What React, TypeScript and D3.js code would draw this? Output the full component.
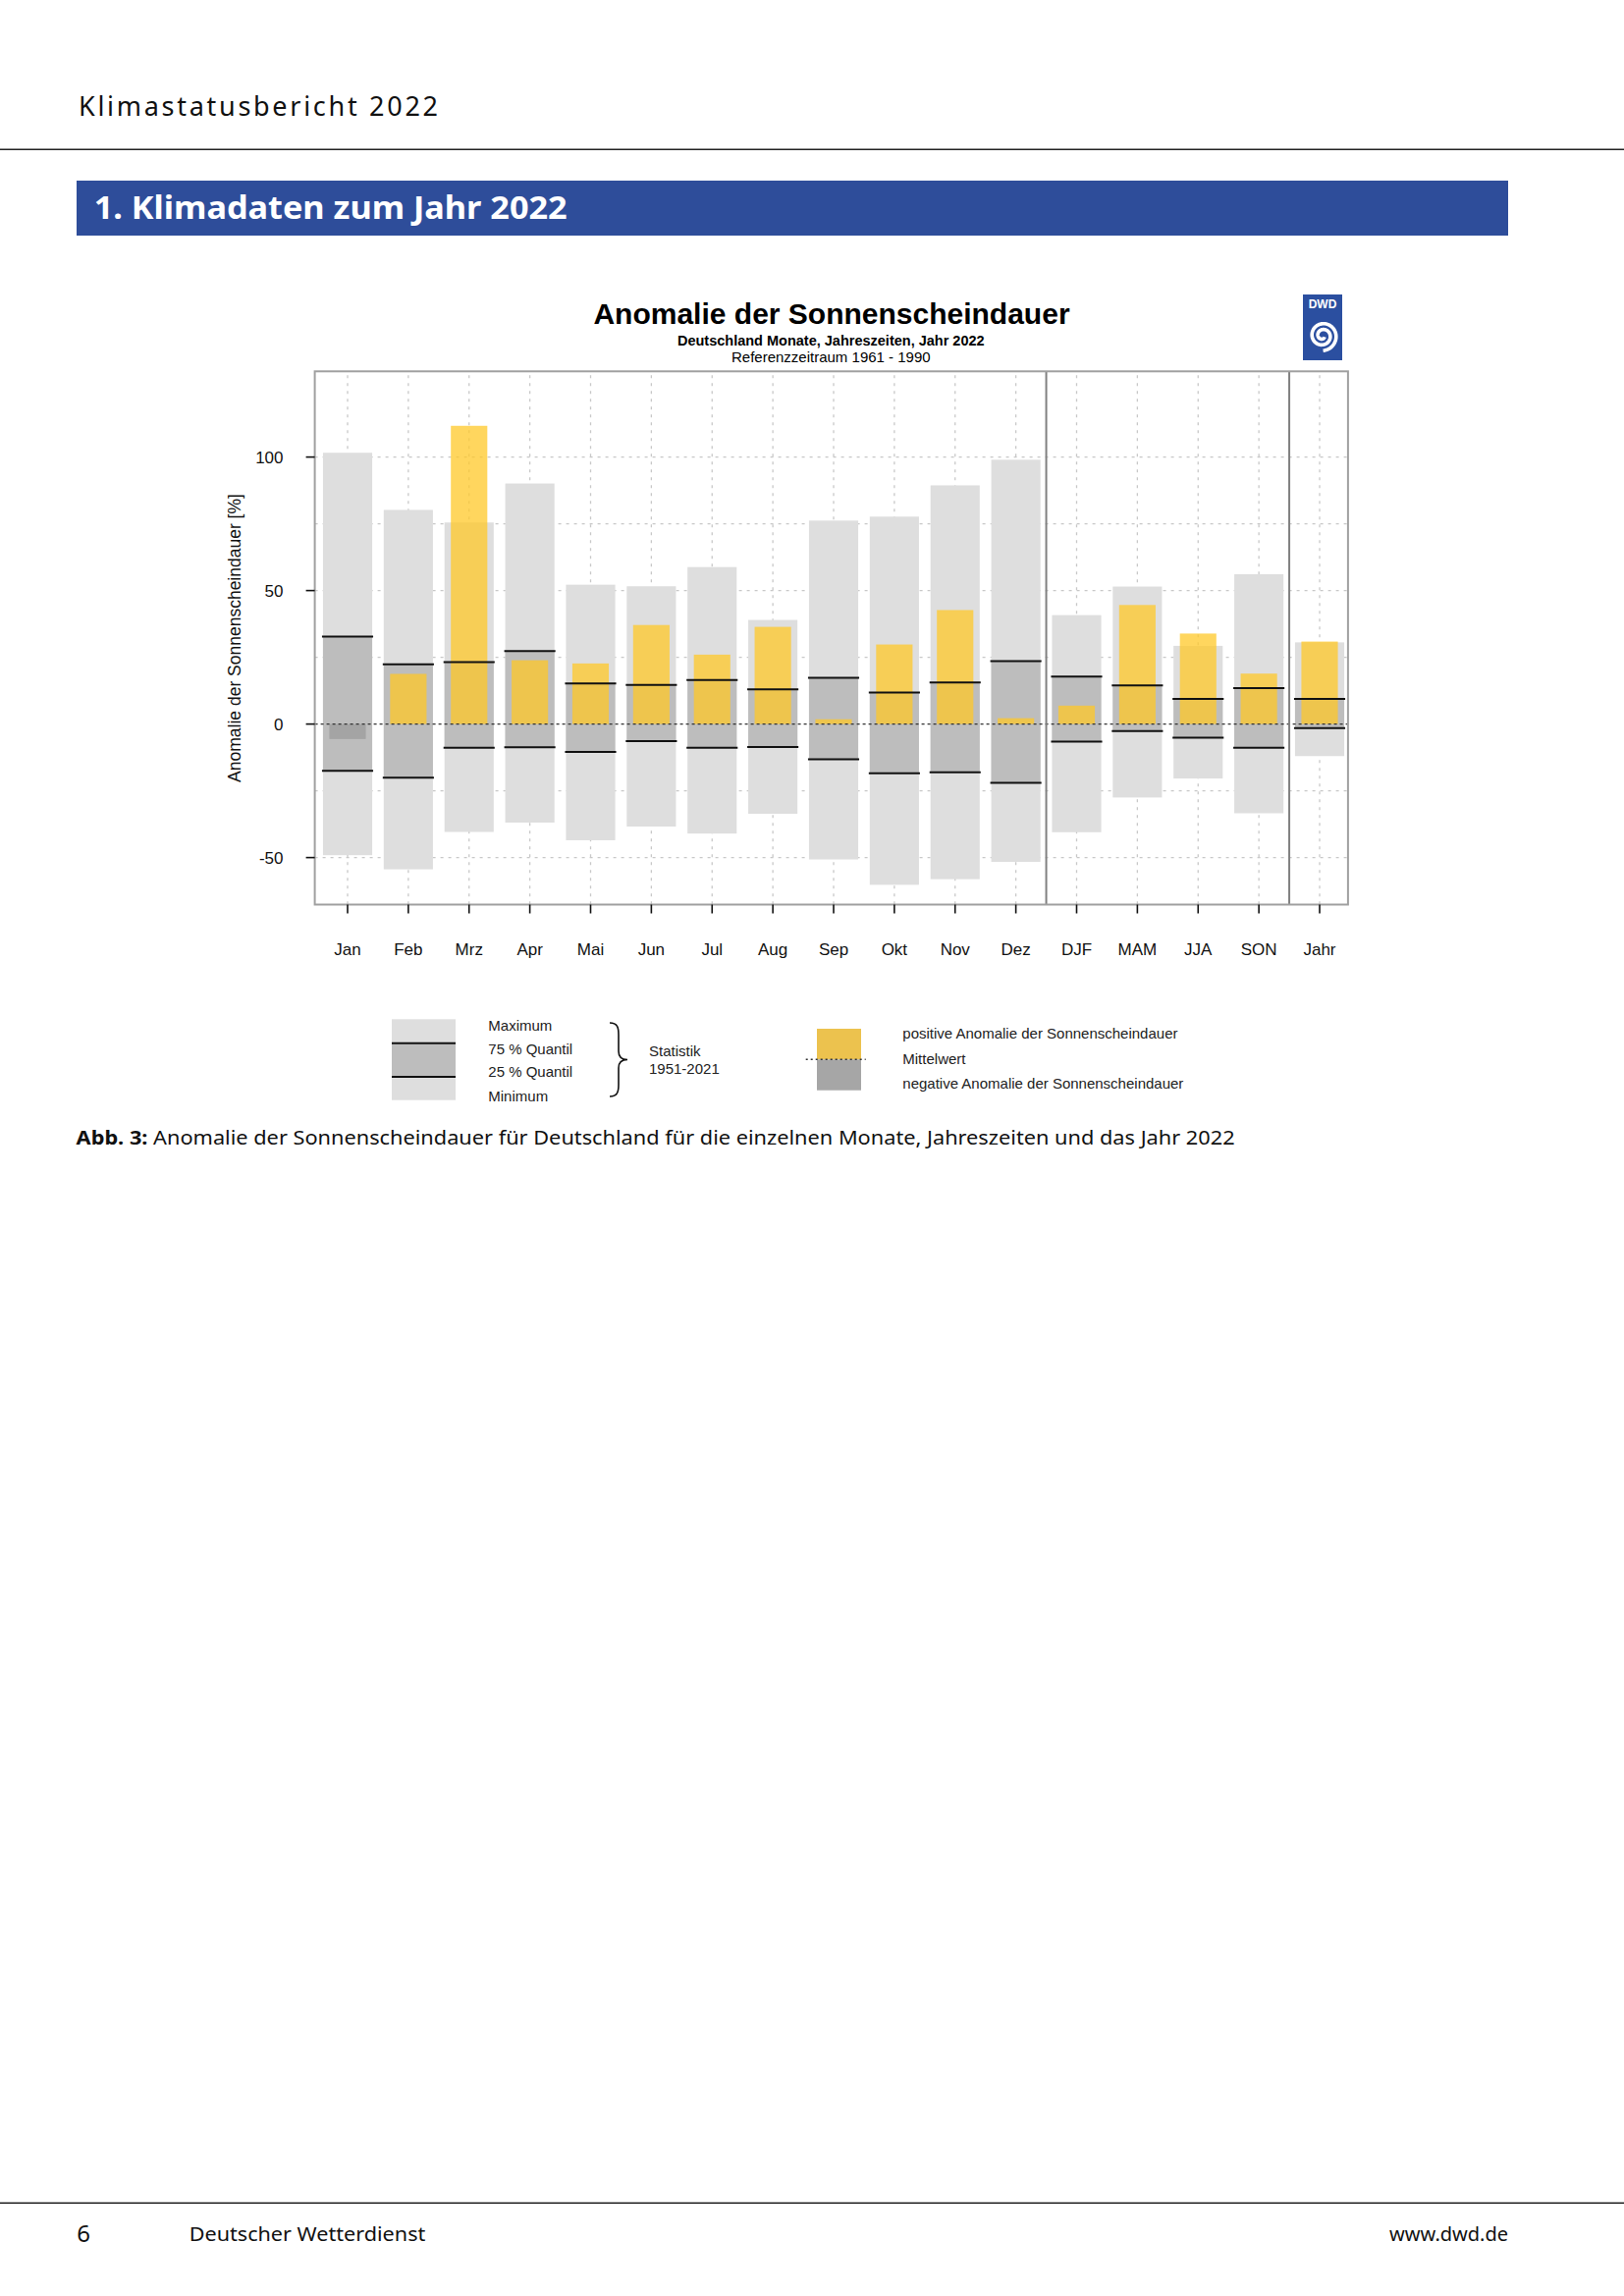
import React from 'react';
import * as d3 from 'd3';

const categories = ['Jan', 'Feb', 'Mrz', 'Apr', 'Mai', 'Jun', 'Jul', 'Aug', 'Sep', 'Okt', 'Nov', 'Dez', 'DJF', 'MAM', 'JJA', 'SON', 'Jahr'];
const maxima = [101.6, 80.2, 75.5, 90.1, 52.2, 51.6, 58.8, 39.0, 76.2, 77.7, 89.4, 99.0, 40.8, 51.5, 29.3, 56.1, 30.6];
const minima = [-49.1, -54.4, -40.4, -36.9, -43.5, -38.4, -41.0, -33.6, -50.7, -60.2, -58.1, -51.6, -40.5, -27.5, -20.4, -33.4, -12.0];
const quantil75 = [32.8, 22.4, 23.2, 27.3, 15.2, 14.7, 16.5, 13.0, 17.3, 11.8, 15.6, 23.6, 17.8, 14.5, 9.4, 13.5, 9.4];
const quantil25 = [-17.5, -20.1, -8.9, -8.7, -10.4, -6.4, -8.9, -8.6, -13.2, -18.4, -18.1, -22.0, -6.6, -2.6, -5.1, -8.9, -1.5];
const anomalie2022 = [-5.6, 18.8, 111.7, 23.9, 22.7, 37.1, 26.0, 36.4, 1.8, 29.8, 42.7, 2.2, 6.9, 44.6, 33.9, 18.9, 30.9];
const yTicks = [-50, 0, 50, 100];
const yGrid = [-50, -25, 25, 50, 75, 100];
const separatorsAfter = ['Dez', 'SON'];

const chartFont = '"Liberation Sans", Arial, Helvetica, sans-serif';
const pageFont = '"Noto Sans", "Open Sans", sans-serif';

const box = { left: 320.6, right: 1372.9, top: 378.3, bottom: 921.5 };

export default function App() {
  const x = d3.scalePoint<string>().domain(categories).range([354, 1344]);
  const step = x.step();
  const cx = (c: string) => x(c) as number;
  const y = d3.scaleLinear().domain([-67.6, 132.1]).range([box.bottom, box.top]);
  const greyW = step * 0.81;
  const anomW = step * 0.6;

  // DWD spiral (logo decoration)
  const spiralPts: [number, number][] = [];
  for (let t = 0; t <= 4.3 * Math.PI; t += 0.1) {
    const r = 2.4 + 0.95 * t;
    spiralPts.push([Math.cos(t + 0.6) * r, Math.sin(t + 0.6) * r]);
  }
  const spiral = d3.line()(spiralPts) || '';

  return (
    <svg width={1654} height={2339} style={{ position: 'absolute', left: 0, top: 0, background: '#fff' }}>
      <rect x={0} y={0} width={1654} height={2339} fill="#fff" />
      {/* page header */}
      <text x={80} y={118.3} fontFamily={pageFont} fontSize={27} fill="#111" textLength={366} lengthAdjust="spacing">Klimastatusbericht 2022</text>
      <line x1={0} x2={1654} y1={152.3} y2={152.3} stroke="#222" strokeWidth={1.5} />
      <rect x={78} y={184} width={1458} height={56} fill="#2E4D9A" />
      <text x={95.7} y={223.3} fontFamily={pageFont} fontWeight="bold" fontSize={33} fill="#fff" textLength={482} lengthAdjust="spacingAndGlyphs">1. Klimadaten zum Jahr 2022</text>

      {/* chart titles */}
      <text x={847} y={330} textAnchor="middle" fontFamily={chartFont} fontWeight="bold" fontSize={30} fill="#000">Anomalie der Sonnenscheindauer</text>
      <text x={846.3} y={352} textAnchor="middle" fontFamily={chartFont} fontWeight="bold" fontSize={14.5} fill="#000">Deutschland Monate, Jahreszeiten, Jahr 2022</text>
      <text x={846.3} y={369.3} textAnchor="middle" fontFamily={chartFont} fontSize={15} fill="#000">Referenzzeitraum 1961 - 1990</text>

      {/* DWD logo */}
      <rect x={1327} y={300} width={40} height={67} fill="#2B4FA0" />
      <text x={1347} y={314} textAnchor="middle" fontFamily={chartFont} fontWeight="bold" fontSize={12} fill="#fff">DWD</text>
      <path d={spiral} transform="translate(1347,342)" fill="none" stroke="#fff" strokeWidth={3.6} />

      {/* grid */}
      {yGrid.map((v) => (
        <line key={'hg' + v} x1={box.left} x2={box.right} y1={y(v)} y2={y(v)} stroke="#c8c8c8" strokeWidth={1.3} strokeDasharray="3,5" />
      ))}
      {categories.map((c) => (
        <line key={'vg' + c} x1={cx(c)} x2={cx(c)} y1={box.top + 4} y2={box.bottom} stroke="#c8c8c8" strokeWidth={1.3} strokeDasharray="3,5" />
      ))}

      {/* statistics bars */}
      {categories.map((c, i) => (
        <g key={'st' + c}>
          <rect x={cx(c) - greyW / 2} width={greyW} y={y(maxima[i])} height={y(minima[i]) - y(maxima[i])} fill="#dedede" />
          <rect x={cx(c) - greyW / 2} width={greyW} y={y(quantil75[i])} height={y(quantil25[i]) - y(quantil75[i])} fill="#bdbdbd" />
        </g>
      ))}

      {/* anomaly bars */}
      {categories.map((c, i) => {
        const v = anomalie2022[i];
        const pos = v >= 0;
        return (
          <rect key={'an' + c} x={cx(c) - anomW / 2} width={anomW} y={y(Math.max(v, 0))} height={Math.abs(y(v) - y(0))}
            fill={pos ? '#FFC828' : '#a4a4a4'} fillOpacity={pos ? 0.75 : 1} />
        );
      })}

      {/* quantile lines */}
      {categories.map((c, i) => (
        <g key={'ql' + c}>
          <line x1={cx(c) - greyW / 2 - 1} x2={cx(c) + greyW / 2 + 1} y1={y(quantil75[i])} y2={y(quantil75[i])} stroke="#111" strokeWidth={2} />
          <line x1={cx(c) - greyW / 2 - 1} x2={cx(c) + greyW / 2 + 1} y1={y(quantil25[i])} y2={y(quantil25[i])} stroke="#111" strokeWidth={2} />
        </g>
      ))}

      {/* zero line */}
      <line x1={box.left} x2={box.right} y1={y(0)} y2={y(0)} stroke="#333" strokeWidth={1.4} strokeDasharray="3,3" />

      {/* separators */}
      {separatorsAfter.map((c) => (
        <line key={'sep' + c} x1={cx(c) + step / 2} x2={cx(c) + step / 2} y1={box.top} y2={box.bottom} stroke="#808080" strokeWidth={2} />
      ))}

      {/* box */}
      <rect x={box.left} y={box.top} width={box.right - box.left} height={box.bottom - box.top} fill="none" stroke="#a0a0a0" strokeWidth={2} />

      {/* y axis */}
      {yTicks.map((v) => (
        <g key={'yt' + v}>
          <line x1={box.left - 9} x2={box.left} y1={y(v)} y2={y(v)} stroke="#111" strokeWidth={1.6} />
          <text x={288.5} y={y(v) + 6} textAnchor="end" fontFamily={chartFont} fontSize={17} fill="#111">{v}</text>
        </g>
      ))}
      <text transform={`translate(245,650) rotate(-90)`} textAnchor="middle" fontFamily={chartFont} fontSize={17.5} fill="#111">Anomalie der Sonnenscheindauer [%]</text>

      {/* x axis */}
      {categories.map((c) => (
        <g key={'xt' + c}>
          <line x1={cx(c)} x2={cx(c)} y1={box.bottom} y2={box.bottom + 9} stroke="#111" strokeWidth={1.6} />
          <text x={cx(c)} y={973} textAnchor="middle" fontFamily={chartFont} fontSize={17} fill="#111">{c}</text>
        </g>
      ))}

      {/* legend left */}
      <rect x={399} y={1038.3} width={65} height={82.4} fill="#dedede" />
      <rect x={399} y={1062.7} width={65} height={34.3} fill="#bdbdbd" />
      <line x1={399} x2={464} y1={1062.7} y2={1062.7} stroke="#111" strokeWidth={2} />
      <line x1={399} x2={464} y1={1097} y2={1097} stroke="#111" strokeWidth={2} />
      <g fontFamily={chartFont} fontSize={15} fill="#222">
        <text x={497.3} y={1050}>Maximum</text>
        <text x={497.3} y={1074}>75 % Quantil</text>
        <text x={497.3} y={1096.7}>25 % Quantil</text>
        <text x={497.3} y={1121.7}>Minimum</text>
        <text x={661} y={1076}>Statistik</text>
        <text x={661} y={1094}>1951-2021</text>
        <text x={919.3} y={1058.3}>positive Anomalie der Sonnenscheindauer</text>
        <text x={919.3} y={1084.3}>Mittelwert</text>
        <text x={919.3} y={1109.3}>negative Anomalie der Sonnenscheindauer</text>
      </g>
      <path d="M621,1042 C629,1042 630,1047 630,1054 L630,1071 C630,1076 633,1079.5 639,1079.5 C633,1079.5 630,1083 630,1088 L630,1105 C630,1112 629,1117 621,1117" fill="none" stroke="#111" strokeWidth={1.6} />

      {/* legend right */}
      <rect x={832} y={1048} width={45} height={31.3} fill="#ECC24E" />
      <rect x={832} y={1079.3} width={45} height={31.4} fill="#a6a6a6" />
      <line x1={820.7} x2={881.7} y1={1079.3} y2={1079.3} stroke="#333" strokeWidth={1.4} strokeDasharray="2,3" />

      {/* caption */}
      <text x={77.6} y={1165.7} fontFamily={pageFont} fontSize={20} fill="#111" textLength={1180} lengthAdjust="spacingAndGlyphs">
        <tspan fontWeight="bold">Abb. 3:</tspan> Anomalie der Sonnenscheindauer für Deutschland für die einzelnen Monate, Jahreszeiten und das Jahr 2022
      </text>

      {/* footer */}
      <line x1={0} x2={1654} y1={2244.3} y2={2244.3} stroke="#222" strokeWidth={1.5} />
      <text x={78.3} y={2284} fontFamily={pageFont} fontSize={24} fill="#111">6</text>
      <text x={192.7} y={2283.3} fontFamily={pageFont} fontSize={20} fill="#111" textLength={240.6} lengthAdjust="spacingAndGlyphs">Deutscher Wetterdienst</text>
      <text x={1536} y={2283.3} textAnchor="end" fontFamily={pageFont} fontSize={20} fill="#111">www.dwd.de</text>
    </svg>
  );
}
